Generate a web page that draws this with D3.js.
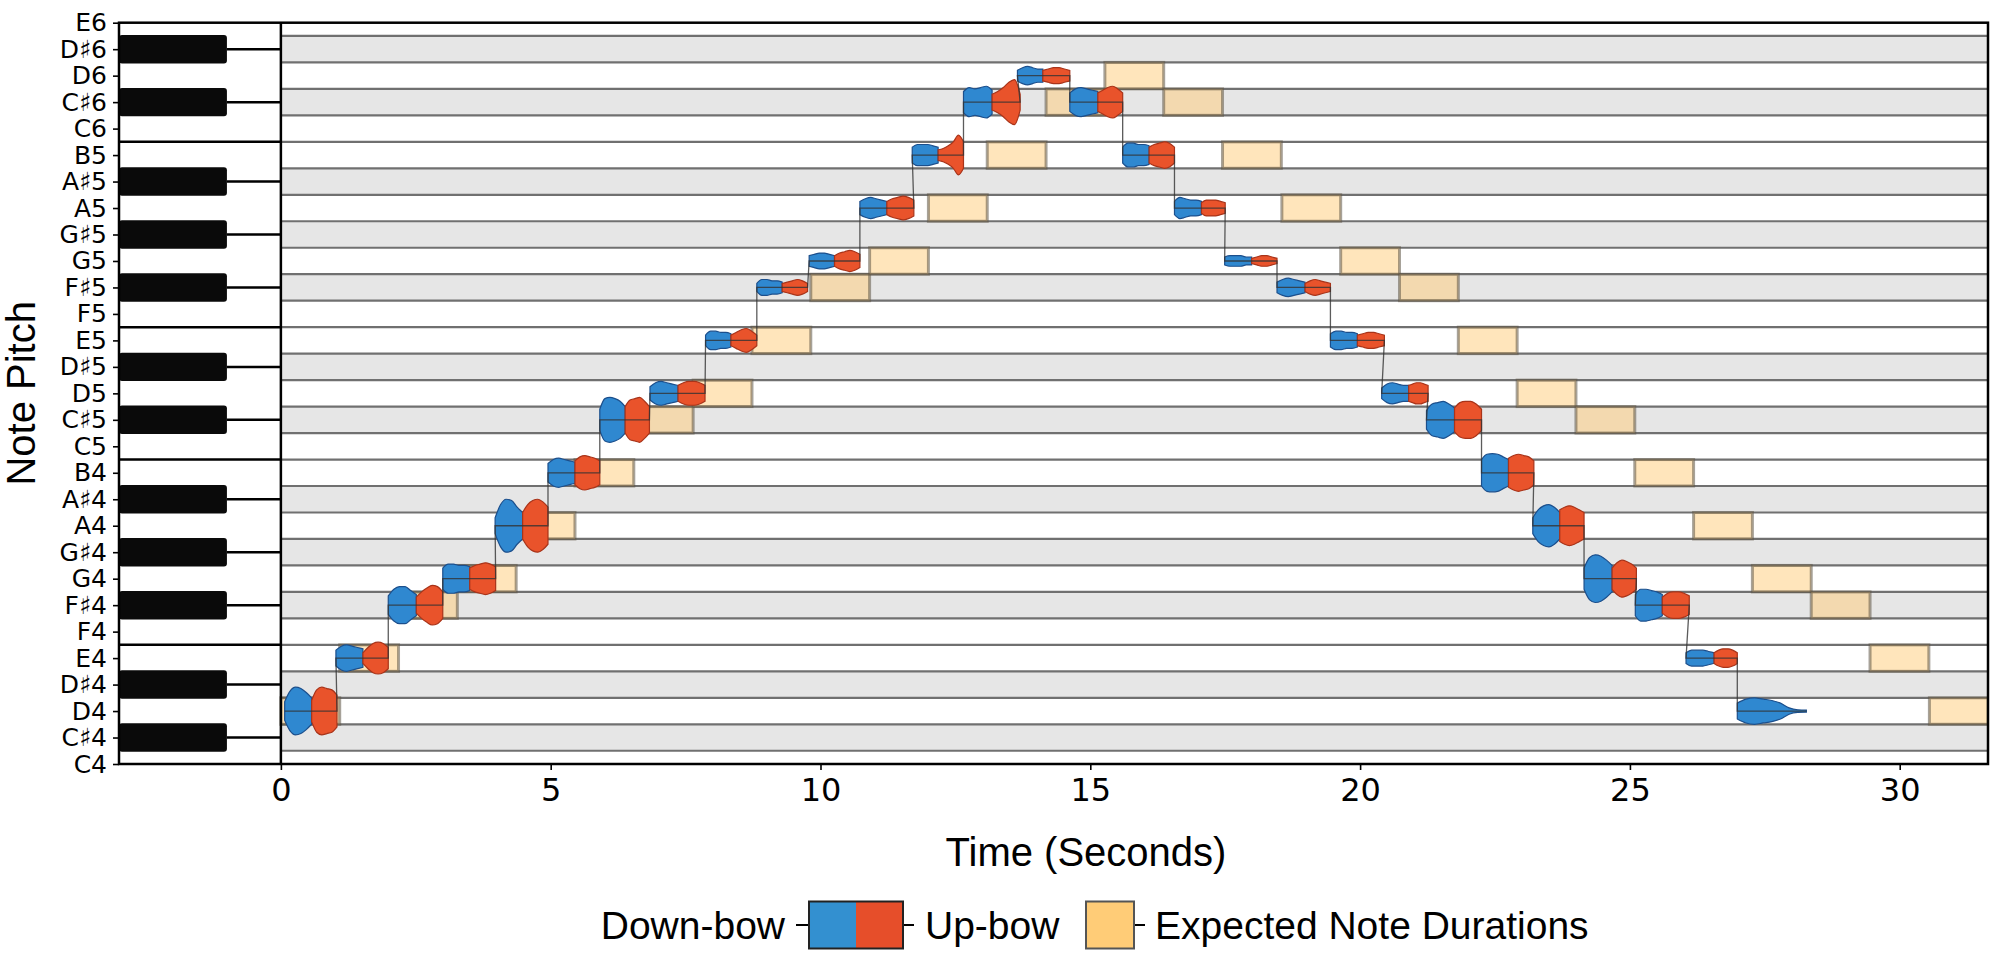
<!DOCTYPE html>
<html>
<head>
<meta charset="utf-8">
<script src="https://cdn.jsdelivr.net/npm/d3@7"></script>
<style>
  body { margin: 0; background: #fff; }
  .tick text { fill: #000; }
</style>
</head>
<body>
<svg id="chart" width="2000" height="958"></svg>
<script>
// Pitch rows, bottom to top
const pitchLabels = ['C4','C♯4','D4','D♯4','E4','F4','F♯4','G4','G♯4','A4','A♯4','B4',
  'C5','C♯5','D5','D♯5','E5','F5','F♯5','G5','G♯5','A5','A♯5','B5','C6','C♯6','D6','D♯6','E6'];
const timeTicks = [0, 5, 10, 15, 20, 25, 30];

// Played notes (two-octave D major scale, up and down)
const notePitches = ['D4','E4','F♯4','G4','A4','B4','C♯5','D5','E5','F♯5','G5','A5','B5','C♯6','D6',
  'C♯6','B5','A5','G5','F♯5','E5','D5','C♯5','B4','A4','G4','F♯4','E4','D4'];
const downStart = [0.07, 1.02, 1.99, 3.0, 3.97, 4.95, 5.91, 6.84, 7.87, 8.82, 9.79, 10.73, 11.7, 12.65, 13.65,
  14.62, 15.6, 16.56, 17.49, 18.46, 19.45, 20.4, 21.23, 22.25, 23.2, 24.15, 25.1, 26.04, 26.99];
const bowChange = [0.57, 1.52, 2.51, 3.5, 4.48, 5.45, 6.38, 7.36, 8.34, 9.29, 10.26, 11.23, 12.18, 13.18, 14.12,
  15.14, 16.09, 17.06, 17.99, 18.98, 19.95, 20.9, 21.75, 22.75, 23.7, 24.67, 25.6, 26.56, 28.27];
const upEnd = [1.04, 1.99, 3.0, 3.98, 4.95, 5.91, 6.83, 7.86, 8.82, 9.76, 10.73, 11.73, 12.65, 13.7, 14.62,
  15.6, 16.56, 17.5, 18.46, 19.45, 20.45, 21.26, 22.25, 23.22, 24.15, 25.12, 26.1, 26.99, 28.27];

// half-height of the loudness envelope, in semitones
const downAmp = [
  [0.35,0.75,0.9,0.85,0.7,0.5], [0.3,0.45,0.5,0.45,0.4,0.35], [0.35,0.6,0.7,0.7,0.55,0.4],
  [0.4,0.55,0.55,0.5,0.5,0.45], [0.3,0.8,1.0,0.95,0.7,0.5], [0.35,0.5,0.55,0.5,0.45,0.4],
  [0.4,0.8,0.85,0.8,0.7,0.5], [0.25,0.4,0.45,0.4,0.35,0.3], [0.2,0.35,0.35,0.3,0.3,0.25],
  [0.15,0.3,0.3,0.25,0.25,0.2], [0.2,0.25,0.3,0.3,0.25,0.2], [0.25,0.35,0.4,0.35,0.3,0.25],
  [0.3,0.4,0.4,0.4,0.35,0.3], [0.4,0.55,0.5,0.55,0.6,0.45], [0.2,0.3,0.35,0.3,0.25,0.25],
  [0.35,0.5,0.55,0.5,0.45,0.4], [0.3,0.45,0.45,0.4,0.4,0.35], [0.25,0.4,0.35,0.3,0.3,0.25],
  [0.15,0.2,0.2,0.2,0.15,0.15], [0.2,0.3,0.35,0.3,0.25,0.2], [0.25,0.35,0.35,0.3,0.3,0.25],
  [0.2,0.35,0.4,0.35,0.3,0.3], [0.35,0.6,0.65,0.7,0.6,0.45], [0.5,0.7,0.72,0.7,0.6,0.5],
  [0.3,0.6,0.75,0.8,0.7,0.5], [0.4,0.8,0.9,0.85,0.7,0.5], [0.4,0.6,0.6,0.55,0.5,0.4],
  [0.2,0.3,0.3,0.3,0.25,0.2], [0.3,0.45,0.5,0.45,0.4,0.3,0.12,0.05,0.04]
];
const upAmp = [
  [0.4,0.8,0.9,0.85,0.8,0.6], [0.2,0.4,0.55,0.6,0.55,0.4], [0.3,0.5,0.65,0.75,0.7,0.5],
  [0.4,0.5,0.55,0.6,0.55,0.45], [0.5,0.8,0.95,1.0,0.9,0.7], [0.45,0.6,0.65,0.6,0.55,0.45],
  [0.5,0.75,0.8,0.85,0.7,0.5], [0.3,0.4,0.45,0.45,0.4,0.3], [0.2,0.3,0.4,0.45,0.35,0.2],
  [0.15,0.2,0.25,0.3,0.25,0.15], [0.2,0.3,0.35,0.4,0.35,0.25], [0.25,0.35,0.4,0.45,0.4,0.3],
  [0.2,0.25,0.35,0.5,0.75,0.5], [0.3,0.4,0.55,0.75,0.85,0.3], [0.2,0.25,0.3,0.3,0.25,0.2],
  [0.35,0.45,0.55,0.6,0.5,0.35], [0.3,0.4,0.45,0.5,0.45,0.3], [0.2,0.3,0.3,0.3,0.25,0.2],
  [0.1,0.15,0.2,0.2,0.15,0.1], [0.15,0.25,0.3,0.25,0.2,0.15], [0.2,0.25,0.3,0.3,0.25,0.2],
  [0.3,0.35,0.4,0.4,0.35,0.3], [0.45,0.65,0.7,0.7,0.6,0.4], [0.55,0.65,0.7,0.65,0.6,0.45],
  [0.6,0.7,0.75,0.7,0.6,0.5], [0.4,0.6,0.7,0.65,0.55,0.4], [0.3,0.45,0.5,0.5,0.45,0.35],
  [0.2,0.3,0.35,0.35,0.3,0.2], []
];

// Expected (score) note onsets, seconds
const expectedStart = [0, 1.09, 2.18, 3.27, 4.36, 5.45, 6.55, 7.64, 8.73, 9.82, 10.91, 12.0, 13.09, 14.18, 15.27,
  16.36, 17.45, 18.55, 19.64, 20.73, 21.82, 22.91, 24.0, 25.09, 26.18, 27.27, 28.36, 29.45, 30.55];
const expectedDur = 1.09;

const xMin = -3, xMax = 31.636, keyEnd = -1;

const svg = d3.select('#chart');
const plotL = 119, plotR = 1988, plotT = 22.7, plotB = 764;

const x = d3.scaleLinear().domain([xMin, xMax]).range([plotL, plotR]);
const y = d3.scaleLinear().domain([0, pitchLabels.length - 1]).range([plotB, plotT]);
const pIdx = name => pitchLabels.indexOf(name);
const isSharp = i => pitchLabels[i].includes('♯');

svg.append('defs').append('clipPath').attr('id', 'plot-clip')
  .append('rect').attr('x', plotL).attr('y', plotT).attr('width', plotR - plotL).attr('height', plotB - plotT);

const g = svg.append('g').attr('clip-path', 'url(#plot-clip)');

// Row bands
const rows = d3.range(pitchLabels.length);
g.selectAll('rect.band')
  .data(rows.filter(isSharp))
  .enter().append('rect')
  .attr('class', 'band')
  .attr('x', x(0))
  .attr('width', x(xMax) - x(0))
  .attr('y', d => y(d + 0.5))
  .attr('height', d => y(d - 0.5) - y(d + 0.5))
  .attr('fill', '#e6e6e6');

// Row separators in the plot
g.selectAll('line.sep')
  .data(rows.slice(0, -1))
  .enter().append('line')
  .attr('x1', x(0)).attr('x2', x(xMax))
  .attr('y1', d => y(d + 0.5)).attr('y2', d => y(d + 0.5))
  .attr('stroke', '#707070')
  .attr('stroke-width', 2.2);

// Piano keyboard
g.selectAll('rect.key')
  .data(rows.filter(isSharp))
  .enter().append('rect')
  .attr('x', x(xMin))
  .attr('width', x(keyEnd) - x(xMin))
  .attr('y', d => y(d + 0.5) - 1)
  .attr('height', d => y(d - 0.5) - y(d + 0.5) + 2)
  .attr('rx', 3)
  .attr('fill', '#0a0a0a');

g.selectAll('line.keyline')
  .data(rows.filter(isSharp))
  .enter().append('line')
  .attr('x1', x(keyEnd)).attr('x2', x(0))
  .attr('y1', d => y(d)).attr('y2', d => y(d))
  .attr('stroke', '#000')
  .attr('stroke-width', 2.5);

// boundaries between two white keys (B-C, E-F)
g.selectAll('line.whiteline')
  .data(rows.slice(0, -1).filter(i => !isSharp(i) && !isSharp(i + 1)))
  .enter().append('line')
  .attr('x1', x(xMin)).attr('x2', x(0))
  .attr('y1', d => y(d + 0.5)).attr('y2', d => y(d + 0.5))
  .attr('stroke', '#000')
  .attr('stroke-width', 2.5);

// Expected note durations
g.selectAll('rect.expected')
  .data(expectedStart)
  .enter().append('rect')
  .attr('x', d => x(d))
  .attr('width', x(expectedDur) - x(0))
  .attr('y', (d, i) => y(pIdx(notePitches[i]) + 0.5))
  .attr('height', y(0) - y(1))
  .attr('fill', '#ffcc77')
  .attr('fill-opacity', 0.5)
  .attr('stroke', '#5e5646')
  .attr('stroke-opacity', 0.55)
  .attr('stroke-width', 3);

// Performed notes: envelope shapes
const envelope = d3.area()
  .x(d => x(d.t))
  .y0(d => y(d.p - d.a))
  .y1(d => y(d.p + d.a))
  .curve(d3.curveMonotoneX);

function samples(t0, t1, amps, p) {
  return amps.map((a, k) => ({ t: t0 + (t1 - t0) * k / (amps.length - 1), a: a, p: p }));
}

const shapes = g.append('g');
notePitches.forEach((name, i) => {
  const p = pIdx(name);
  shapes.append('path')
    .attr('d', envelope(samples(downStart[i], bowChange[i], downAmp[i], p)))
    .attr('fill', '#2f88d0')
    .attr('stroke', '#1c4f8c')
    .attr('stroke-width', 1.2);
  if (upAmp[i].length) {
    shapes.append('path')
      .attr('d', envelope(samples(bowChange[i], upEnd[i], upAmp[i], p)))
      .attr('fill', '#e9532b')
      .attr('stroke', '#a8341a')
      .attr('stroke-width', 1.2);
  }
});

// Pitch trace
const trace = [];
notePitches.forEach((name, i) => {
  trace.push([downStart[i], pIdx(name)]);
  trace.push([upEnd[i], pIdx(name)]);
});
g.append('path')
  .attr('d', d3.line().x(d => x(d[0])).y(d => y(d[1]))(trace))
  .attr('fill', 'none')
  .attr('stroke', '#333')
  .attr('stroke-opacity', 0.8)
  .attr('stroke-width', 1.3);

// Vertical line at t = 0
svg.append('line')
  .attr('x1', x(0)).attr('x2', x(0))
  .attr('y1', plotT).attr('y2', plotB)
  .attr('stroke', '#000')
  .attr('stroke-width', 2.5);

// Frame
svg.append('rect')
  .attr('x', plotL).attr('y', plotT)
  .attr('width', plotR - plotL).attr('height', plotB - plotT)
  .attr('fill', 'none')
  .attr('stroke', '#000')
  .attr('stroke-width', 2.5);

// Axes
const yAxis = svg.append('g')
  .attr('transform', `translate(${plotL},0)`)
  .call(d3.axisLeft(y).tickValues(rows).tickFormat(i => pitchLabels[i]).tickSize(6).tickPadding(6));
yAxis.select('.domain').remove();
yAxis.selectAll('.tick line').attr('stroke', '#000').attr('stroke-width', 1.6);
yAxis.selectAll('.tick text')
  .attr('font-family', 'DejaVu Sans')
  .attr('font-size', 25);

const xAxis = svg.append('g')
  .attr('transform', `translate(0,${plotB})`)
  .call(d3.axisBottom(x).tickValues(timeTicks).tickSize(6).tickPadding(8));
xAxis.select('.domain').remove();
xAxis.selectAll('.tick line').attr('stroke', '#000').attr('stroke-width', 1.6);
xAxis.selectAll('.tick text')
  .attr('font-family', 'DejaVu Sans')
  .attr('font-size', 32);

// Axis titles
svg.append('text')
  .attr('x', 1086).attr('y', 866)
  .attr('text-anchor', 'middle')
  .attr('font-family', 'Liberation Sans, Arial, sans-serif')
  .attr('font-size', 40)
  .text('Time (Seconds)');

svg.append('text')
  .attr('transform', `translate(35,${(plotT + plotB) / 2}) rotate(-90)`)
  .attr('text-anchor', 'middle')
  .attr('font-family', 'Liberation Sans, Arial, sans-serif')
  .attr('font-size', 40)
  .text('Note Pitch');

// Legend
const legend = svg.append('g').attr('font-family', 'Liberation Sans, Arial, sans-serif').attr('font-size', 39);
const ly = 925, lh = 47;
legend.append('text').attr('x', 785).attr('y', ly).attr('dy', '0.35em').attr('text-anchor', 'end').text('Down-bow');
legend.append('line').attr('x1', 796).attr('x2', 914).attr('y1', ly).attr('y2', ly).attr('stroke', '#000').attr('stroke-width', 2);
legend.append('rect').attr('x', 809).attr('y', ly - lh / 2).attr('width', 47).attr('height', lh).attr('fill', '#3390d0');
legend.append('rect').attr('x', 856).attr('y', ly - lh / 2).attr('width', 47).attr('height', lh).attr('fill', '#e64e2a');
legend.append('rect').attr('x', 809).attr('y', ly - lh / 2).attr('width', 94).attr('height', lh)
  .attr('fill', 'none').attr('stroke', '#222').attr('stroke-width', 2);
legend.append('text').attr('x', 925).attr('y', ly).attr('dy', '0.35em').text('Up-bow');
legend.append('line').attr('x1', 1134).attr('x2', 1145).attr('y1', ly).attr('y2', ly).attr('stroke', '#000').attr('stroke-width', 2);
legend.append('rect').attr('x', 1086).attr('y', ly - lh / 2).attr('width', 48).attr('height', lh)
  .attr('fill', '#ffcc77').attr('stroke', '#555').attr('stroke-width', 2);
legend.append('text').attr('x', 1155).attr('y', ly).attr('dy', '0.35em').text('Expected Note Durations');
</script>
</body>
</html>
